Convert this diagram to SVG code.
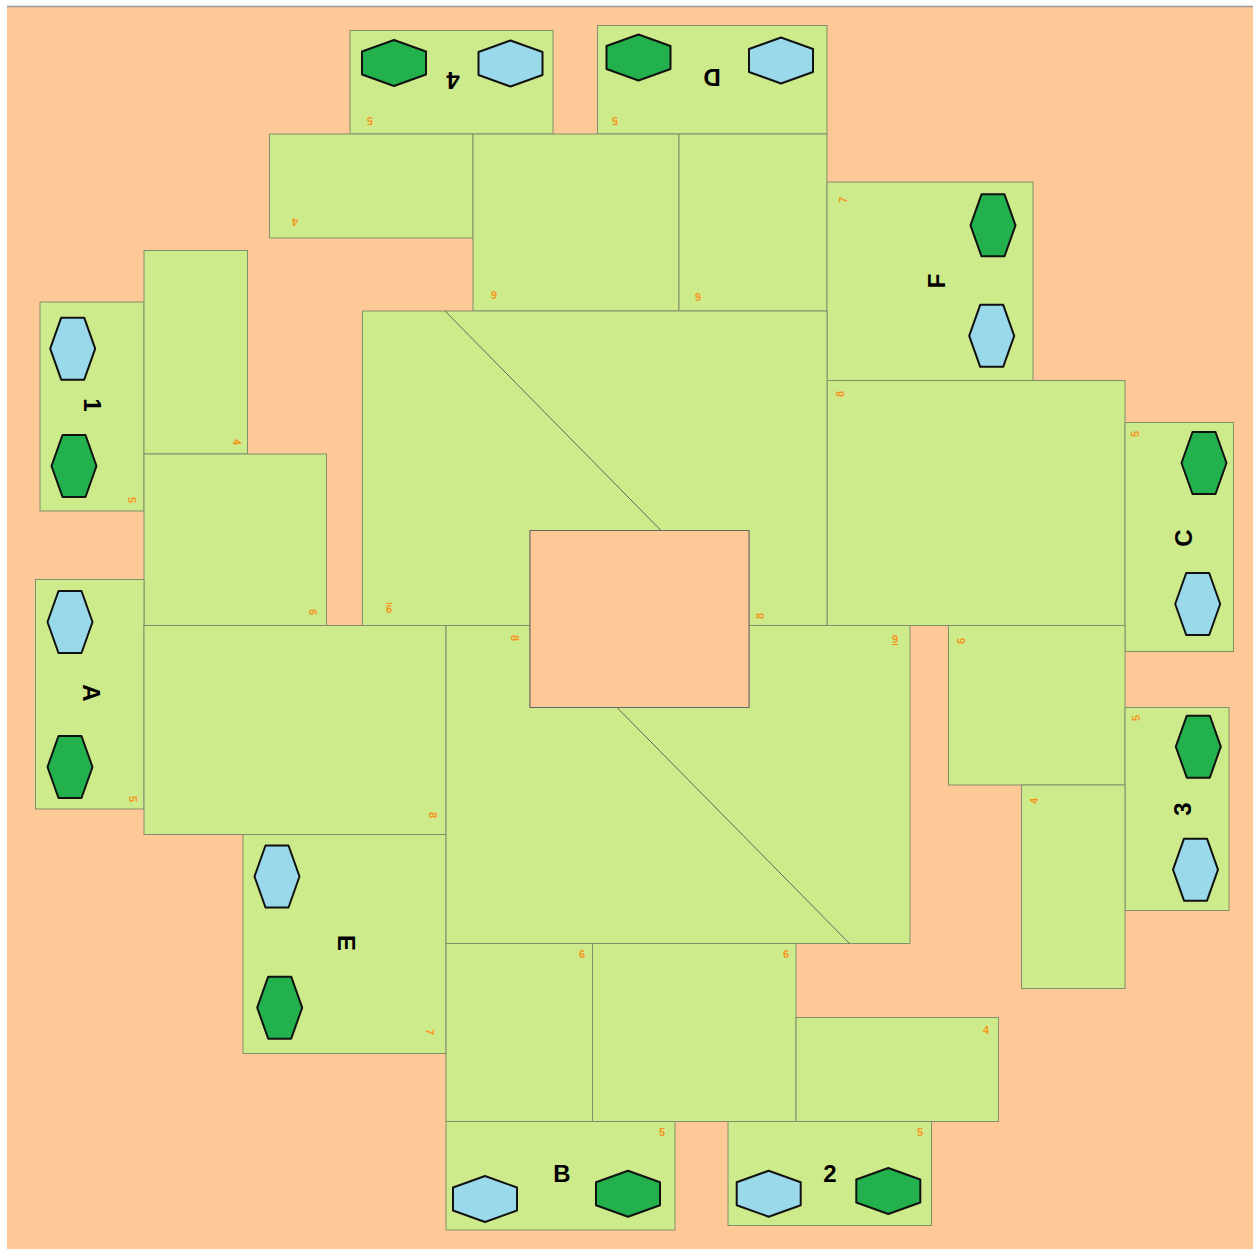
<svg xmlns="http://www.w3.org/2000/svg" width="1253" height="1249" viewBox="0 0 1253 1249">
<style>
.t{fill:#CEEB8B;stroke:#838f6c;stroke-width:1}
.hole{fill:#FFC997;stroke:#666;stroke-width:1}
.diag{stroke:#5f6b4e;stroke-width:1;fill:none}
.g{fill:#22B14C;stroke:#111;stroke-width:2;stroke-linejoin:round}
.b{fill:#99D9EA;stroke:#111;stroke-width:2;stroke-linejoin:round}
.lbl{font-family:"Liberation Sans",Arial,sans-serif;font-weight:bold;font-size:24px;fill:#000;text-anchor:middle}
.num{font-family:"Liberation Sans",Arial,sans-serif;font-weight:bold;font-size:11px;fill:#F7941D;text-anchor:middle}
</style>
<defs>
<polygon id="hh" points="0,-23 32,-11.5 32,11.5 0,23 -32,11.5 -32,-11.5"/>
<polygon id="hv" points="-11.5,-31 11.5,-31 22.5,0 11.5,31 -11.5,31 -22.5,0"/>
</defs>
<rect x="0" y="0" width="1253" height="1249" fill="#fff"/>
<rect x="7" y="7" width="1246" height="1242" fill="#FFC997"/>
<line x1="7" y1="6.5" x2="1253" y2="6.5" stroke="#9a9a9a" stroke-width="1.5"/>

<g id="tile-4-top">
<rect class="t" x="350" y="30.5" width="203" height="103.5"/>
<use href="#hh" class="g" x="394" y="63"/>
<use href="#hh" class="b" x="510.5" y="63.5"/>
<text class="lbl" transform="translate(453,80) rotate(180)" y="8.5">4</text>
<text class="num" transform="translate(370,121) rotate(180)" y="4">5</text>
</g>
<g id="tile-D">
<rect class="t" x="597.5" y="25.5" width="229.5" height="108.5"/>
<use href="#hh" class="g" x="638.5" y="57.5"/>
<use href="#hh" class="b" x="781" y="60.5"/>
<text class="lbl" transform="translate(712,77) rotate(180)" y="8.5">D</text>
<text class="num" transform="translate(615,121) rotate(180)" y="4">5</text>
</g>
<g id="rect-4-topleft">
<rect class="t" x="269.5" y="134" width="203.5" height="104"/>
<text class="num" transform="translate(295,222) rotate(180)" y="4">4</text>
</g>
<g id="rect-6-top-a">
<rect class="t" x="473" y="134" width="206" height="177"/>
<text class="num" transform="translate(494,295) rotate(180)" y="4">6</text>
</g>
<g id="rect-6-top-b">
<rect class="t" x="679" y="134" width="148" height="177"/>
<text class="num" transform="translate(698,297) rotate(180)" y="4">6</text>
</g>
<g id="tile-F">
<rect class="t" x="827" y="182" width="206" height="198.5"/>
<use href="#hv" class="g" x="993" y="225.3"/>
<use href="#hv" class="b" x="991.7" y="335.8"/>
<text class="lbl" transform="translate(936,281) rotate(-90)" y="8.5">F</text>
<text class="num" transform="translate(843,200) rotate(-90)" y="4">7</text>
</g>
<g id="rect-8-right">
<rect class="t" x="827" y="380.5" width="298" height="245"/>
<text class="num" transform="translate(840,394) rotate(-90)" y="4">8</text>
</g>
<g id="tile-C">
<rect class="t" x="1125" y="422.5" width="108.5" height="229"/>
<use href="#hv" class="g" x="1204" y="463"/>
<use href="#hv" class="b" x="1197.7" y="604"/>
<text class="lbl" transform="translate(1183,538) rotate(-90)" y="8.5">C</text>
<text class="num" transform="translate(1135,434) rotate(-90)" y="4">5</text>
</g>
<g id="rect-6-right">
<rect class="t" x="948.5" y="625.5" width="176.5" height="159.5"/>
<text class="num" transform="translate(961,641) rotate(-90)" y="4">6</text>
</g>
<g id="tile-3">
<rect class="t" x="1125" y="707.5" width="104" height="203"/>
<use href="#hv" class="g" x="1198.3" y="746.7"/>
<use href="#hv" class="b" x="1195.5" y="869.7"/>
<text class="lbl" transform="translate(1182,809) rotate(-90)" y="8.5">3</text>
<text class="num" transform="translate(1136,718) rotate(-90)" y="4">5</text>
</g>
<g id="rect-4-right">
<rect class="t" x="1021.5" y="785" width="103.5" height="203.5"/>
<text class="num" transform="translate(1034,801) rotate(-90)" y="4">4</text>
</g>
<g id="tile-1">
<rect class="t" x="40" y="302" width="104" height="209"/>
<use href="#hv" class="b" x="72.7" y="348.7"/>
<use href="#hv" class="g" x="74" y="466"/>
<text class="lbl" transform="translate(92,405) rotate(90)" y="8.5">1</text>
<text class="num" transform="translate(132,500) rotate(90)" y="4">5</text>
</g>
<g id="rect-4-left">
<rect class="t" x="144" y="250.5" width="103.5" height="203.5"/>
<text class="num" transform="translate(237,442) rotate(90)" y="4">4</text>
</g>
<g id="rect-6-left">
<rect class="t" x="144" y="454" width="182.5" height="171.5"/>
<text class="num" transform="translate(313,612) rotate(90)" y="4">6</text>
</g>
<g id="tile-A">
<rect class="t" x="35.5" y="579.5" width="108.5" height="229.5"/>
<use href="#hv" class="b" x="70" y="622"/>
<use href="#hv" class="g" x="70" y="767"/>
<text class="lbl" transform="translate(91,693) rotate(90)" y="8.5">A</text>
<text class="num" transform="translate(133,799) rotate(90)" y="4">5</text>
</g>
<g id="rect-8-left">
<rect class="t" x="144" y="625.5" width="302" height="209"/>
<text class="num" transform="translate(433,815) rotate(90)" y="4">8</text>
</g>
<g id="tile-E">
<rect class="t" x="243" y="834.5" width="203" height="219"/>
<use href="#hv" class="b" x="277" y="876.5"/>
<use href="#hv" class="g" x="279.7" y="1007.7"/>
<text class="lbl" transform="translate(346,943) rotate(90)" y="8.5">E</text>
<text class="num" transform="translate(430,1032) rotate(90)" y="4">7</text>
</g>
<g id="rect-6-bottom-a">
<rect class="t" x="446" y="943.5" width="146.5" height="178"/>
<text class="num" x="582" y="958">6</text>
</g>
<g id="rect-6-bottom-b">
<rect class="t" x="592.5" y="943.5" width="203.5" height="178"/>
<text class="num" x="786" y="958">6</text>
</g>
<g id="rect-4-bottom">
<rect class="t" x="796" y="1017.5" width="202.5" height="104"/>
<text class="num" x="986" y="1034">4</text>
</g>
<g id="tile-B">
<rect class="t" x="446" y="1121.5" width="229" height="108.5"/>
<use href="#hh" class="b" x="485" y="1199"/>
<use href="#hh" class="g" x="628" y="1193.7"/>
<text class="lbl" x="562" y="1181.5">B</text>
<text class="num" x="662" y="1136">5</text>
</g>
<g id="tile-2">
<rect class="t" x="728" y="1121.5" width="203.5" height="104"/>
<use href="#hh" class="b" x="768.7" y="1193.7"/>
<use href="#hh" class="g" x="888.3" y="1191"/>
<text class="lbl" x="830" y="1181.5">2</text>
<text class="num" x="920" y="1136">5</text>
</g>
<g id="center-upper">
<polygon class="t" points="362.5,311 827,311 827,625.5 749,625.5 749,530.5 530,530.5 530,625.5 362.5,625.5"/>
<text class="num" transform="translate(389,609) rotate(180)" y="4" text-decoration="underline">9</text>
<text class="num" transform="translate(760,616) rotate(-90)" y="4">8</text>
</g>
<g id="center-lower">
<polygon class="t" points="446,625.5 530,625.5 530,707.5 749,707.5 749,625.5 910,625.5 910,943.5 446,943.5"/>
<text class="num" transform="translate(515,638) rotate(90)" y="4">8</text>
<text class="num" x="895" y="643" text-decoration="underline">9</text>
</g>
<g id="center-hole">
<rect class="hole" x="530" y="530.5" width="219" height="177"/>
</g>
<g id="connectors">
<line class="diag" x1="445" y1="311" x2="661" y2="530.5"/>
<line class="diag" x1="617" y1="707.5" x2="849.5" y2="943.5"/>
</g>
</svg>
